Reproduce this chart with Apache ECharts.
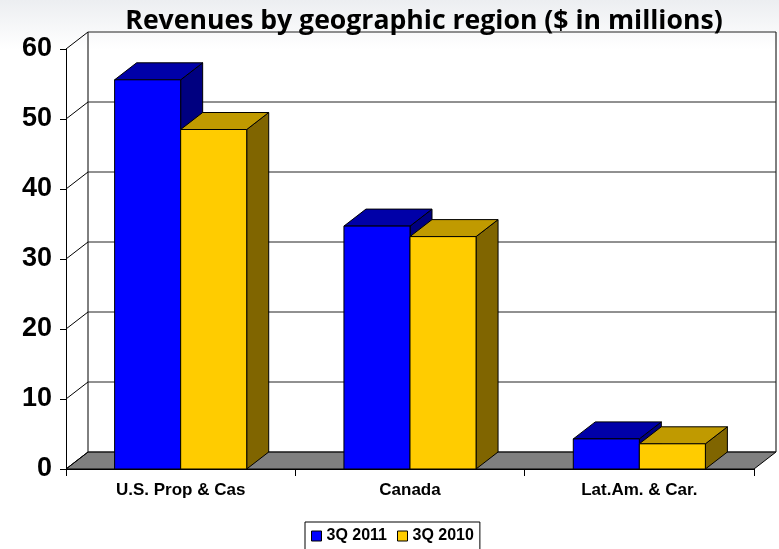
<!DOCTYPE html>
<html>
<head>
<meta charset="utf-8">
<script src="https://cdn.jsdelivr.net/npm/echarts@6/dist/echarts.min.js"></script>
<style>
  html, body { margin: 0; padding: 0; background: #fff; }
  #chart { width: 779px; height: 549px; }
</style>
</head>
<body>
<div id="chart"></div>
<script>
// Revenue data by region, $ millions
const regions = ['U.S. Prop & Cas', 'Canada', 'Lat.Am. & Car.'];
const revenue2011 = [55.6, 34.7, 4.3];
const revenue2010 = [48.5, 33.2, 3.6];
const yTicks = [0, 10, 20, 30, 40, 50, 60];
const seriesNames = ['3Q 2011', '3Q 2010'];

// Depth of the 3D projection (pixels)
const DX = 22, DY = 17;
const BAR_RATIO = 0.288;

const palette = [
  { front: '#0000FF', top: '#0000A8', side: '#000080' },
  { front: '#FFCC00', top: '#C09A00', side: '#806500' }
];

const edge = { stroke: '#000', lineWidth: 1 };

function barRenderer(seriesIdx) {
  return function (params, api) {
    const cat = api.value(0);
    const val = api.value(1);
    const top = api.coord([cat, val]);
    const base = api.coord([cat, 0]);
    const band = api.size([1, 0])[0];
    const w = band * BAR_RATIO;
    const x0 = seriesIdx === 0 ? top[0] - w : top[0];
    const x1 = x0 + w;
    const yT = top[1], yB = base[1];
    const c = palette[seriesIdx];
    return {
      type: 'group',
      children: [
        { type: 'polygon', shape: { points: [[x1, yB], [x1 + DX, yB - DY], [x1 + DX, yT - DY], [x1, yT]] },
          style: Object.assign({ fill: c.side }, edge) },
        { type: 'polygon', shape: { points: [[x0, yT], [x1, yT], [x1 + DX, yT - DY], [x0 + DX, yT - DY]] },
          style: Object.assign({ fill: c.top }, edge) },
        { type: 'rect', shape: { x: x0, y: yT, width: w, height: yB - yT },
          style: Object.assign({ fill: c.front }, edge) }
      ]
    };
  };
}

// Back wall grid lines and the left wall diagonals
function wallRenderer(params, api) {
  const cs = params.coordSys;
  const v = api.value(0);
  const p = api.coord([0, v]);
  const xL = cs.x, xR = cs.x + cs.width;
  const y = p[1];
  return {
    type: 'group',
    children: [
      { type: 'line', shape: { x1: xL, y1: y, x2: xL + DX, y2: y - DY }, style: { stroke: '#000', lineWidth: 1 } },
      { type: 'line', shape: { x1: xL + DX, y1: y - DY, x2: xR + DX, y2: y - DY }, style: { stroke: '#222', lineWidth: 1 } }
    ]
  };
}

// Floor slab and the back wall's vertical edges
function frameRenderer(params, api) {
  const cs = params.coordSys;
  const lo = api.coord([0, api.value(0)])[1];
  const hi = api.coord([0, api.value(1)])[1];
  const xL = cs.x, xR = cs.x + cs.width;
  return {
    type: 'group',
    children: [
      { type: 'polygon', shape: { points: [[xL, lo], [xR, lo], [xR + DX, lo - DY], [xL + DX, lo - DY]] },
        style: { fill: '#808080', stroke: '#000', lineWidth: 1 } },
      { type: 'line', shape: { x1: xL + DX, y1: lo - DY, x2: xL + DX, y2: hi - DY }, style: { stroke: '#000', lineWidth: 1 } },
      { type: 'line', shape: { x1: xR + DX, y1: lo - DY, x2: xR + DX, y2: hi - DY }, style: { stroke: '#000', lineWidth: 1 } }
    ]
  };
}

const chart = echarts.init(document.getElementById('chart'), null, { renderer: 'canvas' });

chart.setOption({
  animation: false,
  backgroundColor: {
    type: 'linear', x: 0, y: 0, x2: 0, y2: 1,
    colorStops: [
      { offset: 0, color: '#eceef1' },
      { offset: 0.09, color: '#ffffff' },
      { offset: 1, color: '#ffffff' }
    ]
  },
  title: {
    text: 'Revenues by geographic region ($ in millions)',
    left: 419, textAlign: 'center', top: 3,
    textStyle: { fontFamily: 'Open Sans', fontWeight: 'bold', fontSize: 26.6, color: '#000' }
  },
  legend: {
    left: 305, top: 522,
    data: [
      { name: seriesNames[0], itemStyle: { color: palette[0].front, borderColor: '#000', borderWidth: 1 } },
      { name: seriesNames[1], itemStyle: { color: palette[1].front, borderColor: '#000', borderWidth: 1 } }
    ],
    icon: 'rect', itemWidth: 10, itemHeight: 10, itemGap: 10,
    padding: [6, 6, 10, 6],
    backgroundColor: '#fff', borderColor: '#000', borderWidth: 1,
    textStyle: { fontFamily: 'Liberation Sans', fontWeight: 'bold', fontSize: 16, color: '#000' }
  },
  grid: { left: 66, right: 25, top: 49, bottom: 80 },
  xAxis: {
    type: 'category', data: regions,
    axisLine: { show: true, lineStyle: { color: '#000', width: 1 } },
    axisTick: { show: true, length: 7, lineStyle: { color: '#000' } },
    axisLabel: { margin: 13, fontFamily: 'Liberation Sans', fontWeight: 'bold', fontSize: 17, color: '#000' }
  },
  yAxis: {
    type: 'value', min: 0, max: 60, interval: 10,
    axisLine: { show: true, lineStyle: { color: '#000', width: 1 } },
    axisTick: { show: true, length: 6, lineStyle: { color: '#000' } },
    splitLine: { show: false },
    axisLabel: { margin: 14, fontFamily: 'Liberation Sans', fontWeight: 'bold', fontSize: 27, color: '#000' }
  },
  series: [
    { type: 'custom', name: 'frame', z: 1, silent: true, renderItem: frameRenderer,
      data: [[yTicks[0], yTicks[yTicks.length - 1]]], encode: { x: [], y: [0, 1] } },
    { type: 'custom', name: 'wall', z: 1, silent: true, renderItem: wallRenderer,
      data: yTicks.map(v => [v]), encode: { x: [], y: 0 } },
    { type: 'custom', name: seriesNames[0], z: 3, renderItem: barRenderer(0),
      itemStyle: { color: palette[0].front },
      data: revenue2011.map((v, i) => [i, v]) },
    { type: 'custom', name: seriesNames[1], z: 4, renderItem: barRenderer(1),
      itemStyle: { color: palette[1].front },
      data: revenue2010.map((v, i) => [i, v]) }
  ]
});
</script>
</body>
</html>
